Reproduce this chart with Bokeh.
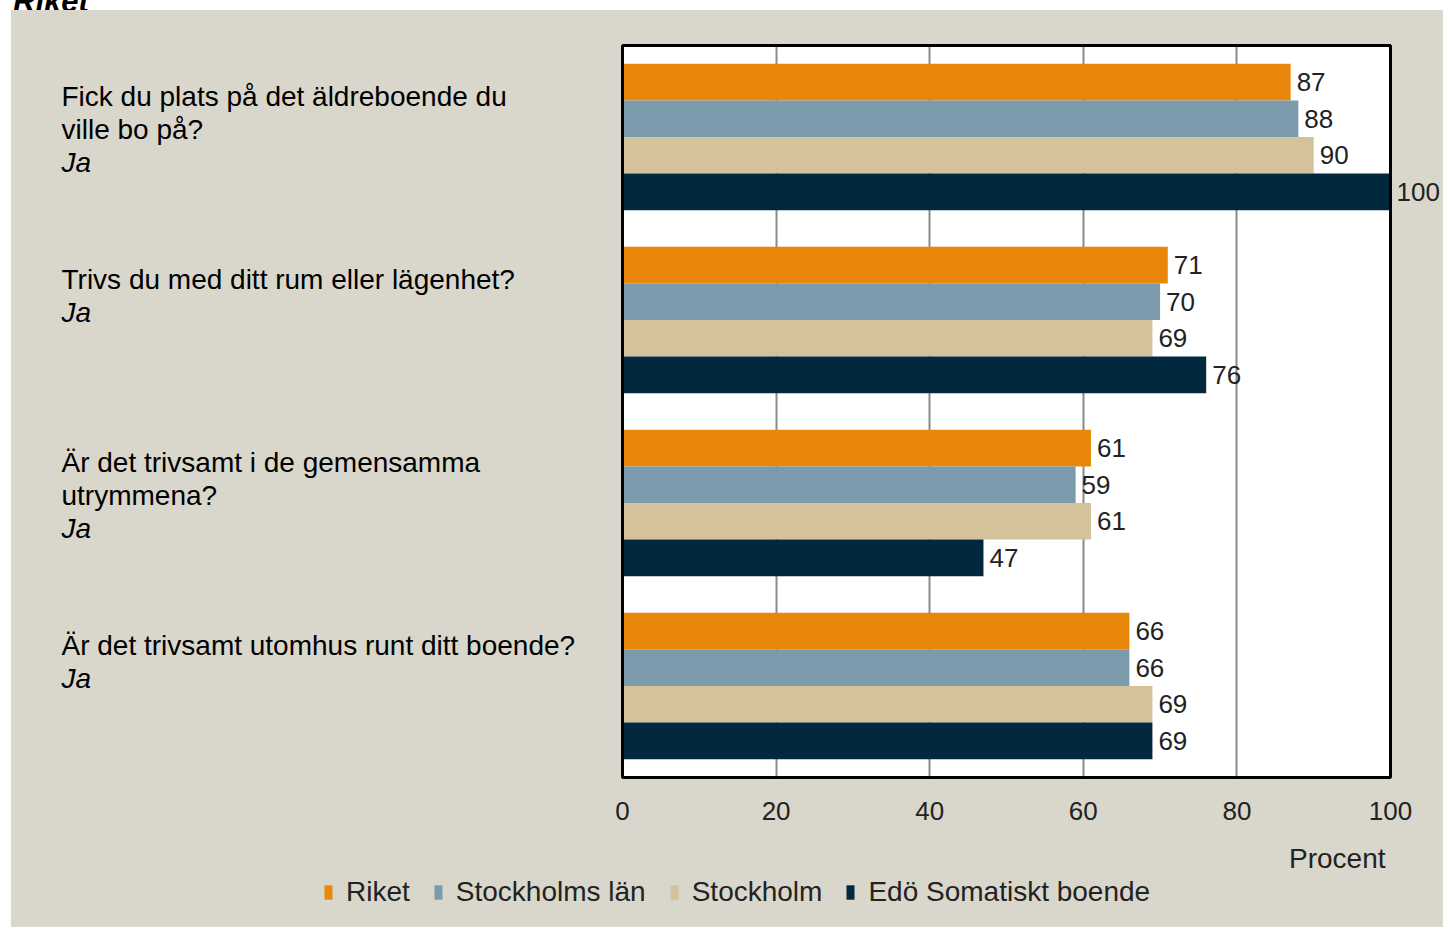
from bokeh.plotting import figure
from bokeh.models import (ColumnDataSource, Range1d, FixedTicker, LabelSet, Label,
                          Legend, LegendItem, BoxAnnotation, Spacer, Div)
from bokeh.layouts import column, row
from bokeh.core.properties import value
from bokeh.embed import file_html
from bokeh.resources import INLINE

# ---- data ----
page_title = "Riket"
questions = [
    ["Fick du plats på det äldreboende du", "ville bo på?"],
    ["Trivs du med ditt rum eller lägenhet?"],
    ["Är det trivsamt i de gemensamma", "utrymmena?"],
    ["Är det trivsamt utomhus runt ditt boende?"],
]
answer = "Ja"
series = ["Riket", "Stockholms län", "Stockholm", "Edö Somatiskt boende"]
riket = [87, 71, 61, 66]
stockholms_lan = [88, 70, 59, 66]
stockholm = [90, 69, 61, 69]
edo = [100, 76, 47, 69]
values = [riket, stockholms_lan, stockholm, edo]
colors = ["#E8870A", "#7B9AAB", "#D4C29A", "#022840"]
x_ticks = [0, 20, 40, 60, 80, 100]
axis_title = "Procent"

BG = "#D9D7CB"
FONT = "Liberation Sans"
TXT = "#222222"

# layout geometry (pixels)
W = 1432
H1, H2 = 825, 92            # main chart / legend strip
PX_X = 7.68                 # pixels per percent
X0_PX = 611                 # x=0 position inside the figure
PX_Y = 183                  # pixels per category
PAD = 6                     # extra frame pixels above/below the plot area
n = len(questions)

xr = Range1d(-X0_PX / PX_X, (W - X0_PX) / PX_X)
yr = Range1d(n + PAD / PX_Y, -PAD / PX_Y)

p = figure(width=W, height=H1, output_backend="svg", toolbar_location=None,
           x_range=xr, y_range=yr,
           min_border_left=0, min_border_right=0, min_border_top=29,
           min_border_bottom=H1 - 29 - 744)
p.background_fill_color = None
p.border_fill_color = None
p.outline_line_color = None

p.yaxis.visible = False
p.ygrid.grid_line_color = None
p.xgrid.ticker = FixedTicker(ticks=x_ticks[1:-1])
p.xgrid.grid_line_color = "#8A8A8A"
p.xgrid.grid_line_width = 2
p.xaxis.ticker = FixedTicker(ticks=x_ticks)
p.xaxis.axis_line_color = None
p.xaxis.major_tick_line_color = None
p.xaxis.minor_tick_line_color = None
p.xaxis.major_label_standoff = 12
p.xaxis.major_label_text_font = FONT
p.xaxis.major_label_text_font_size = "26px"
p.xaxis.major_label_text_color = TXT

x_lo, x_hi = x_ticks[0], x_ticks[-1]
# white plotting area (below the grid)
p.add_layout(BoxAnnotation(left=x_lo, right=x_hi, top=0, bottom=n,
                           fill_color="white", fill_alpha=1, line_color=None,
                           level="image"))
# hide grid lines in the padding strips above / below the plotting area
for t, b in [(-1, 0), (n, n + 1)]:
    p.add_layout(BoxAnnotation(top=t, bottom=b, fill_color=BG, fill_alpha=1,
                               line_color=None, level="glyph"))

bar_h = 0.2
offsets = [-0.3, -0.1, 0.1, 0.3]
for s, vals, col, off in zip(series, values, colors, offsets):
    ys = [i + 0.5 + off for i in range(n)]
    src = ColumnDataSource(dict(y=ys, v=vals, t=[str(v) for v in vals]))
    p.hbar(y="y", right="v", left=0, height=bar_h, source=src,
           fill_color=col, line_color=None)
    p.add_layout(LabelSet(x="v", y="y", text="t", source=src, x_offset=6,
                          text_baseline="middle", text_font=value(FONT),
                          text_font_size="26px", text_color=TXT))

# frame border around the plotting area
p.add_layout(BoxAnnotation(left=x_lo, right=x_hi, top=0, bottom=n,
                           fill_alpha=0, line_color="black", line_alpha=1,
                           line_width=3, level="overlay"))

# question texts
qx, qy, qt, qs = [], [], [], []
for i, lines in enumerate(questions):
    top = i + 0.1
    allines = lines + [answer]
    for k, line in enumerate(allines):
        qx.append(-561 / PX_X)
        qy.append(top + 33 * (k + 1) / PX_Y)
        qt.append(line)
        qs.append("italic" if k == len(allines) - 1 else "normal")
qsrc = ColumnDataSource(dict(x=qx, y=qy, t=qt, s=qs))
p.text(x="x", y="y", text="t", source=qsrc, text_baseline="middle",
       text_font=value(FONT), text_font_size="28px", text_font_style="s",
       text_color="black")

# ---- legend strip (shares the x scale) ----
p2 = figure(width=W, height=H2, output_backend="svg", toolbar_location=None,
            x_range=xr, y_range=Range1d(0, 1), x_axis_type=None,
            y_axis_type=None, min_border=0)
p2.background_fill_color = None
p2.border_fill_color = None
p2.outline_line_color = None
p2.grid.visible = False

p2.add_layout(Label(x=x_hi, y=1, y_offset=-23, x_offset=-5, text=axis_title,
                    text_align="right", text_baseline="middle", text_font=FONT,
                    text_font_size="28px", text_color=TXT))

items = []
for s, vals, col in zip(series, values, colors):
    # legend swatches: same series drawn outside the strip's visible range
    src = ColumnDataSource(dict(y=[-10] * len(vals), v=vals))
    r = p2.hbar(y="y", right="v", left=0, height=0.1, source=src,
                fill_color=col, line_color=None)
    items.append(LegendItem(label=s, renderers=[r]))
legend = Legend(items=items, orientation="horizontal", location=(312, 19),
                background_fill_alpha=0, border_line_color=None,
                glyph_width=10, glyph_height=18, label_standoff=13, spacing=23,
                padding=0, margin=0, label_text_font=FONT,
                label_text_font_size="28px", label_text_color=TXT)
p2.add_layout(legend, "center")

title_div = Div(text=("<div style='margin-top:-34px;margin-left:13px;"
                      "font:bold italic 31px \"Liberation Sans\",sans-serif;"
                      "color:black;white-space:nowrap'>" + page_title + "</div>"),
                width=300, height=10, margin=0, styles={"overflow": "hidden"})

chart = column(p, p2, styles={"background-color": BG})
layout = column(title_div, row(Spacer(width=11, height=H1 + H2, margin=0), chart))
open("out.html", "w").write(file_html(layout, INLINE))
